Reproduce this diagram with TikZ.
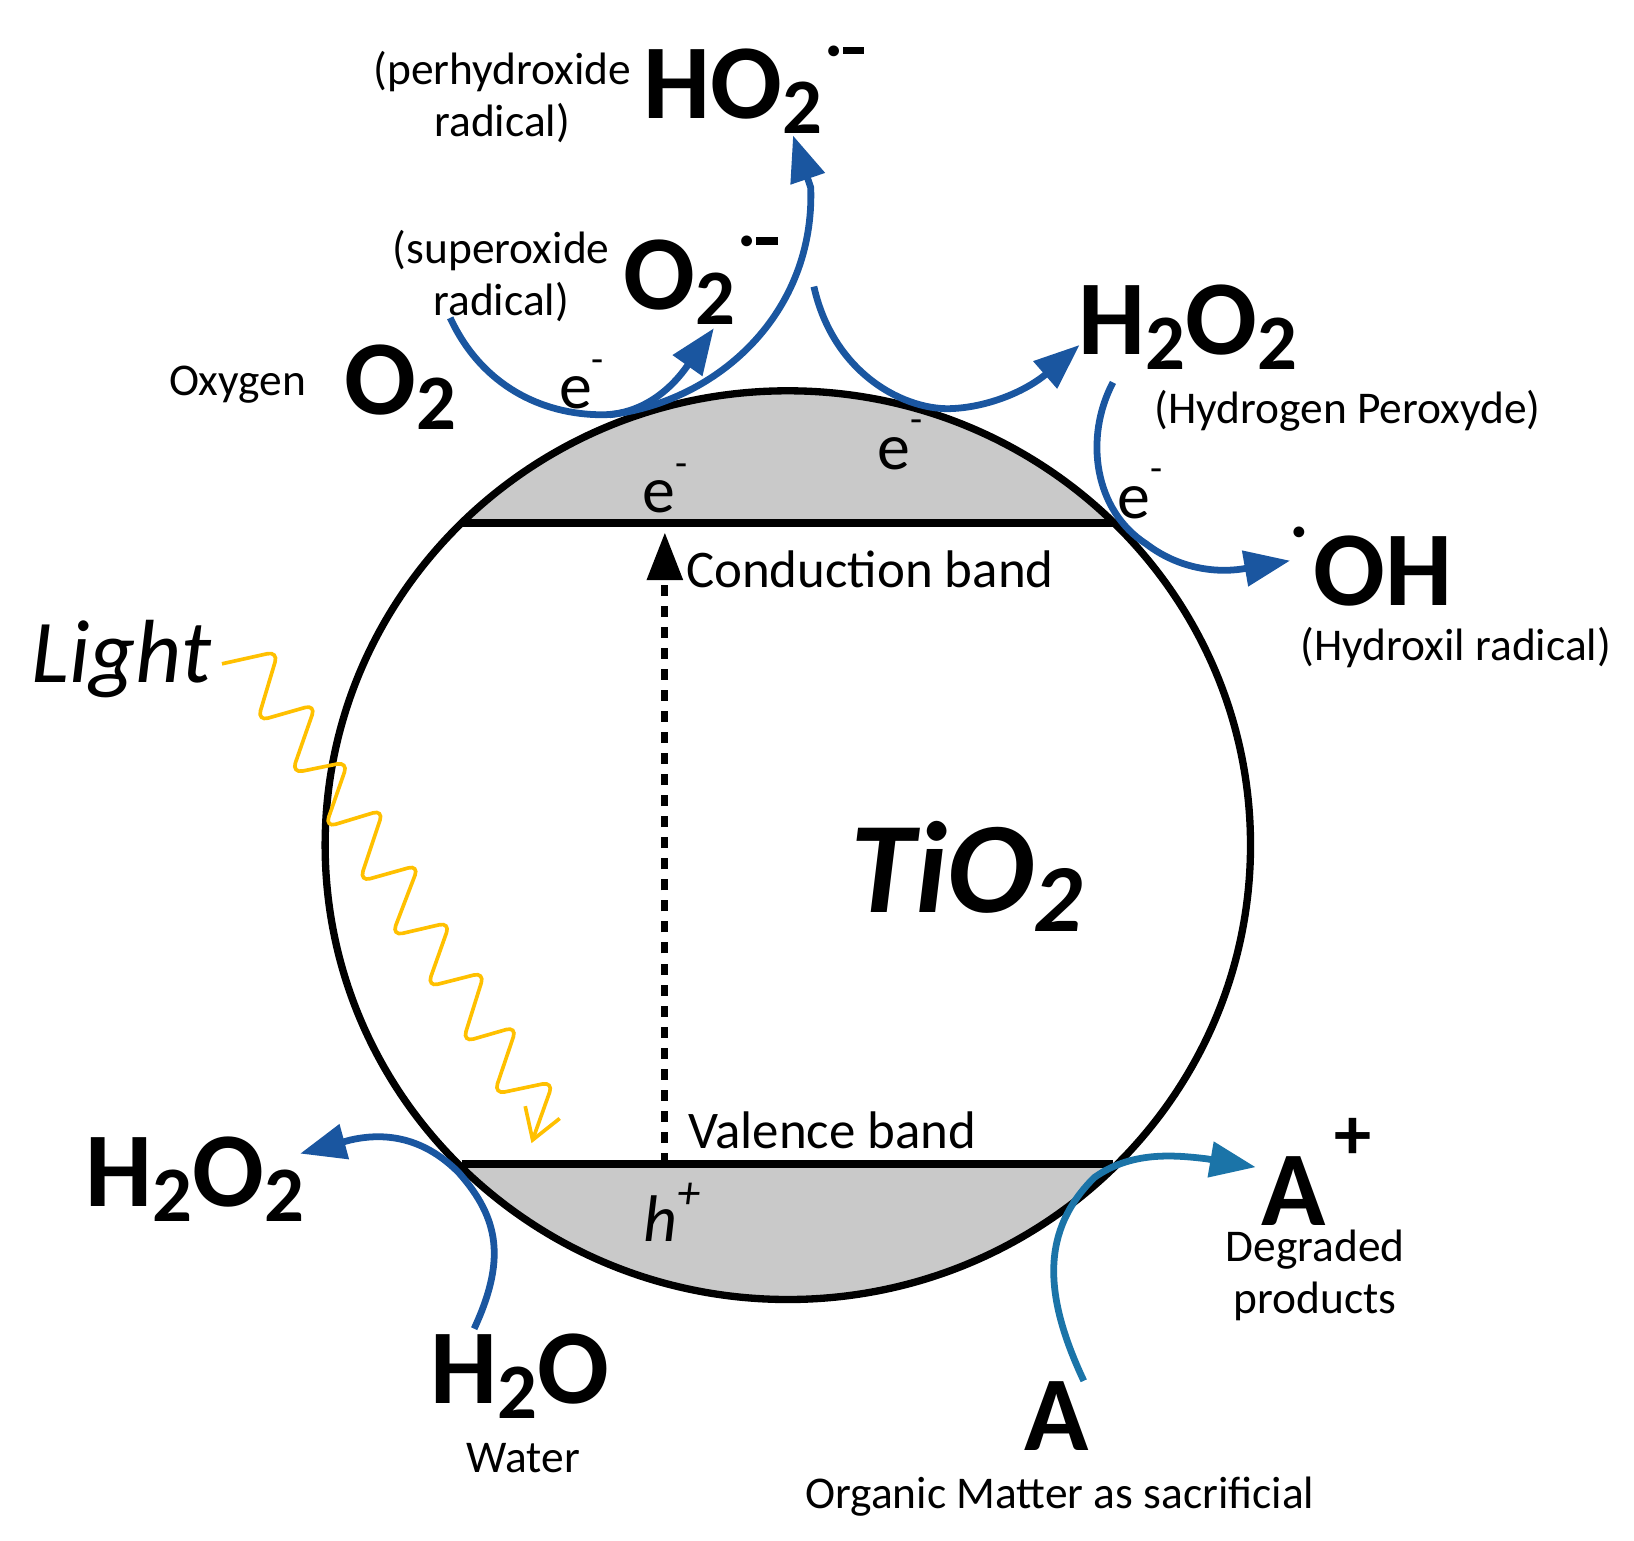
\documentclass[tikz,border=0pt]{standalone}
\usepackage{fontspec}
\setmainfont{Carlito}
\usepackage{tikz}
\usetikzlibrary{arrows.meta,shapes.geometric}
\definecolor{bandgray}{HTML}{C9C9C9}
\definecolor{flowblue}{HTML}{1A56A0}
\definecolor{flowteal}{HTML}{1B74A8}
\definecolor{lightyellow}{HTML}{FFC000}
\newcommand{\lowtwo}{\raisebox{-.14em}{\scalebox{.74}{2}}}
\newcommand{\smalldot}{\scalebox{.24}{\textbullet}}
\newcommand{\radicalsup}{\raisebox{.57em}{\hspace{.05em}\smalldot\hspace{.03em}\rule[.04em]{.2em}{.07em}}}
\newcommand{\minussup}{\raisebox{.55em}{\scalebox{.6}{-}}}
\tikzset{
	species/.style={anchor=base west,inner sep=0,font=\fontsize{58}{58}\selectfont\bfseries},
	note/.style={align=center,inner sep=0,font=\fontsize{24.8}{28.5}\selectfont},
	bandtext/.style={anchor=west,inner sep=0,font=\fontsize{28.9}{32}\selectfont},
	charge/.style={inner sep=0,font=\fontsize{36}{36}\selectfont},
	flow/.style={line width=3.7pt,color=flowblue,-{Triangle[length=25pt,width=19pt]}},
}
\begin{document}
\begin{tikzpicture}[x=0.02cm,y=-0.02cm]
	\useasboundingbox (0,0) rectangle (1568,1478);
	\begin{scope}
		\clip (756,811) ellipse [x radius=444,y radius=436];
		\fill [bandgray] (300,360) rectangle (1210,502);
		\fill [bandgray] (300,1117) rectangle (1210,1260);
	\end{scope}
	\node [ellipse,draw,line width=4pt,minimum width=888*0.02cm,minimum height=872*0.02cm,inner sep=0] (grain) at (756,811) {};
	\coordinate (cbleft) at (443,502);
	\coordinate (cbright) at (1068,502);
	\coordinate (vbleft) at (443,1117);
	\coordinate (vbright) at (1068,1117);
	\coordinate (vbmid) at (638,1117);
	\coordinate (cbmid) at (638,511);
	\draw [line width=4pt] (cbleft) -- (cbright);
	\draw [line width=4pt] (vbleft) -- (vbright);
	\draw [line width=3.7pt,dash pattern=on 6pt off 5.5pt,-{Triangle[length=26pt,width=19pt]}] (vbmid) -- (cbmid);
	% labels
	\node [species] (hotwo) at (617,114) {HO\lowtwo\radicalsup};
	\node [species] (otworad) at (598,297) {O\lowtwo\radicalsup};
	\node [species] (otwo) at (330,398) {O\lowtwo};
	\node [species] (peroxtop) at (1035,340) {H\lowtwo O\lowtwo};
	\node [species] (peroxlow) at (82,1158) {H\lowtwo O\lowtwo};
	\node [species] (hydroxil) at (1240,581) {\raisebox{.62em}{\smalldot}\hspace{.08em}OH};
	\node [species] (water) at (413,1347) {H\lowtwo O};
	\node [species] (aplus) at (1210,1176) {A\raisebox{.62em}{\hspace{.08em}\scalebox{.7}{+}}};
	\node [species] (aorg) at (983,1392) {A};
	\node [note] (perhydroxide) at (482,93) {(perhydroxide\\radical)};
	\node [note] (superoxide) at (481,265) {(superoxide\\radical)};
	\node [note] (oxygen) at (228,369) {Oxygen};
	\node [note] (peroxname) at (1293,394) {(Hydrogen Peroxyde)};
	\node [note] (hydroxilname) at (1397,621) {(Hydroxil radical)};
	\node [note] (degraded) at (1262,1224) {Degraded\\products};
	\node [note] (watername) at (502,1399) {Water};
	\node [note] (organic) at (1017,1436) {Organic Matter as sacrificial};
	\node [bandtext] (conduction) at (658,546) {Conduction band};
	\node [bandtext] (valence) at (660,1085) {Valence band};
	\node [charge] (eone) at (558,369) {e\minussup};
	\node [charge] (etwo) at (638,469) {e\minussup};
	\node [charge] (ethree) at (864,427) {e\minussup};
	\node [charge] (efour) at (1094,474) {e\minussup};
	\node [charge,font=\fontsize{36}{36}\selectfont\itshape] (hole) at (645,1163) {h\raisebox{.5em}{\scalebox{.7}{+}}};
	\node [anchor=base west,inner sep=0,font=\fontsize{71}{71}\selectfont\bfseries\itshape] (tio) at (816,876) {TiO\lowtwo};
	\node [anchor=base west,inner sep=0,font=\fontsize{49}{49}\selectfont\itshape] (light) at (30,655) {Light};
	% reaction arrows
	\coordinate (otwoout) at (432,305);
	\coordinate (otwoin) at (685,315);
	\coordinate (hotwoout) at (585,398);
	\coordinate (hotwoin) at (761,130);
	\coordinate (peroxout) at (781,275);
	\coordinate (peroxin) at (1036,331);
	\coordinate (hydroxout) at (1068,367);
	\coordinate (hydroxin) at (1238,538);
	\coordinate (waterout) at (455,1275);
	\coordinate (waterin) at (288,1107);
	\coordinate (aout) at (1040,1325);
	\coordinate (ain) at (1205,1120);
	\draw [flow] (otwoout) .. controls (462,370) and (520,398) .. (578,398) .. controls (610,398) and (640,380) .. (661,349) -- (otwoin);
	\draw [flow] (hotwoout) .. controls (690,385) and (782,300) .. (778,180) -- (hotwoin);
	\draw [flow] (peroxout) .. controls (800,360) and (870,395) .. (915,392) .. controls (950,390) and (985,375) .. (1005,358) -- (peroxin);
	\draw [flow] (hydroxout) .. controls (1040,420) and (1050,490) .. (1100,522) .. controls (1130,545) and (1165,550) .. (1192,546) -- (hydroxin);
	\draw [flow] (waterout) .. controls (485,1210) and (480,1170) .. (440,1125) .. controls (410,1095) and (375,1085) .. (336,1094) -- (waterin);
	\draw [flow,color=flowteal] (aout) .. controls (1000,1240) and (1000,1180) .. (1050,1130) .. controls (1085,1105) and (1125,1108) .. (1158,1112) -- (ain);
	% light
	\coordinate (lightout) at (213,637);
	\coordinate (lightin) at (510,1097);
	\draw [line width=2pt,color=lightyellow,rounded corners=6pt,-{Straight Barb[length=16pt,width=20pt]}] (lightout) -- (267,625) -- (247,692) -- (303,676) -- (280,742) -- (334,731) -- (312,794) -- (368,777) -- (345,846) -- (402,830) -- (376,898) -- (432,885) -- (410,947) -- (465,933) -- (444,1000) -- (496,985) -- (474,1050) -- (531,1038) -- (lightin);
\end{tikzpicture}
\end{document}
